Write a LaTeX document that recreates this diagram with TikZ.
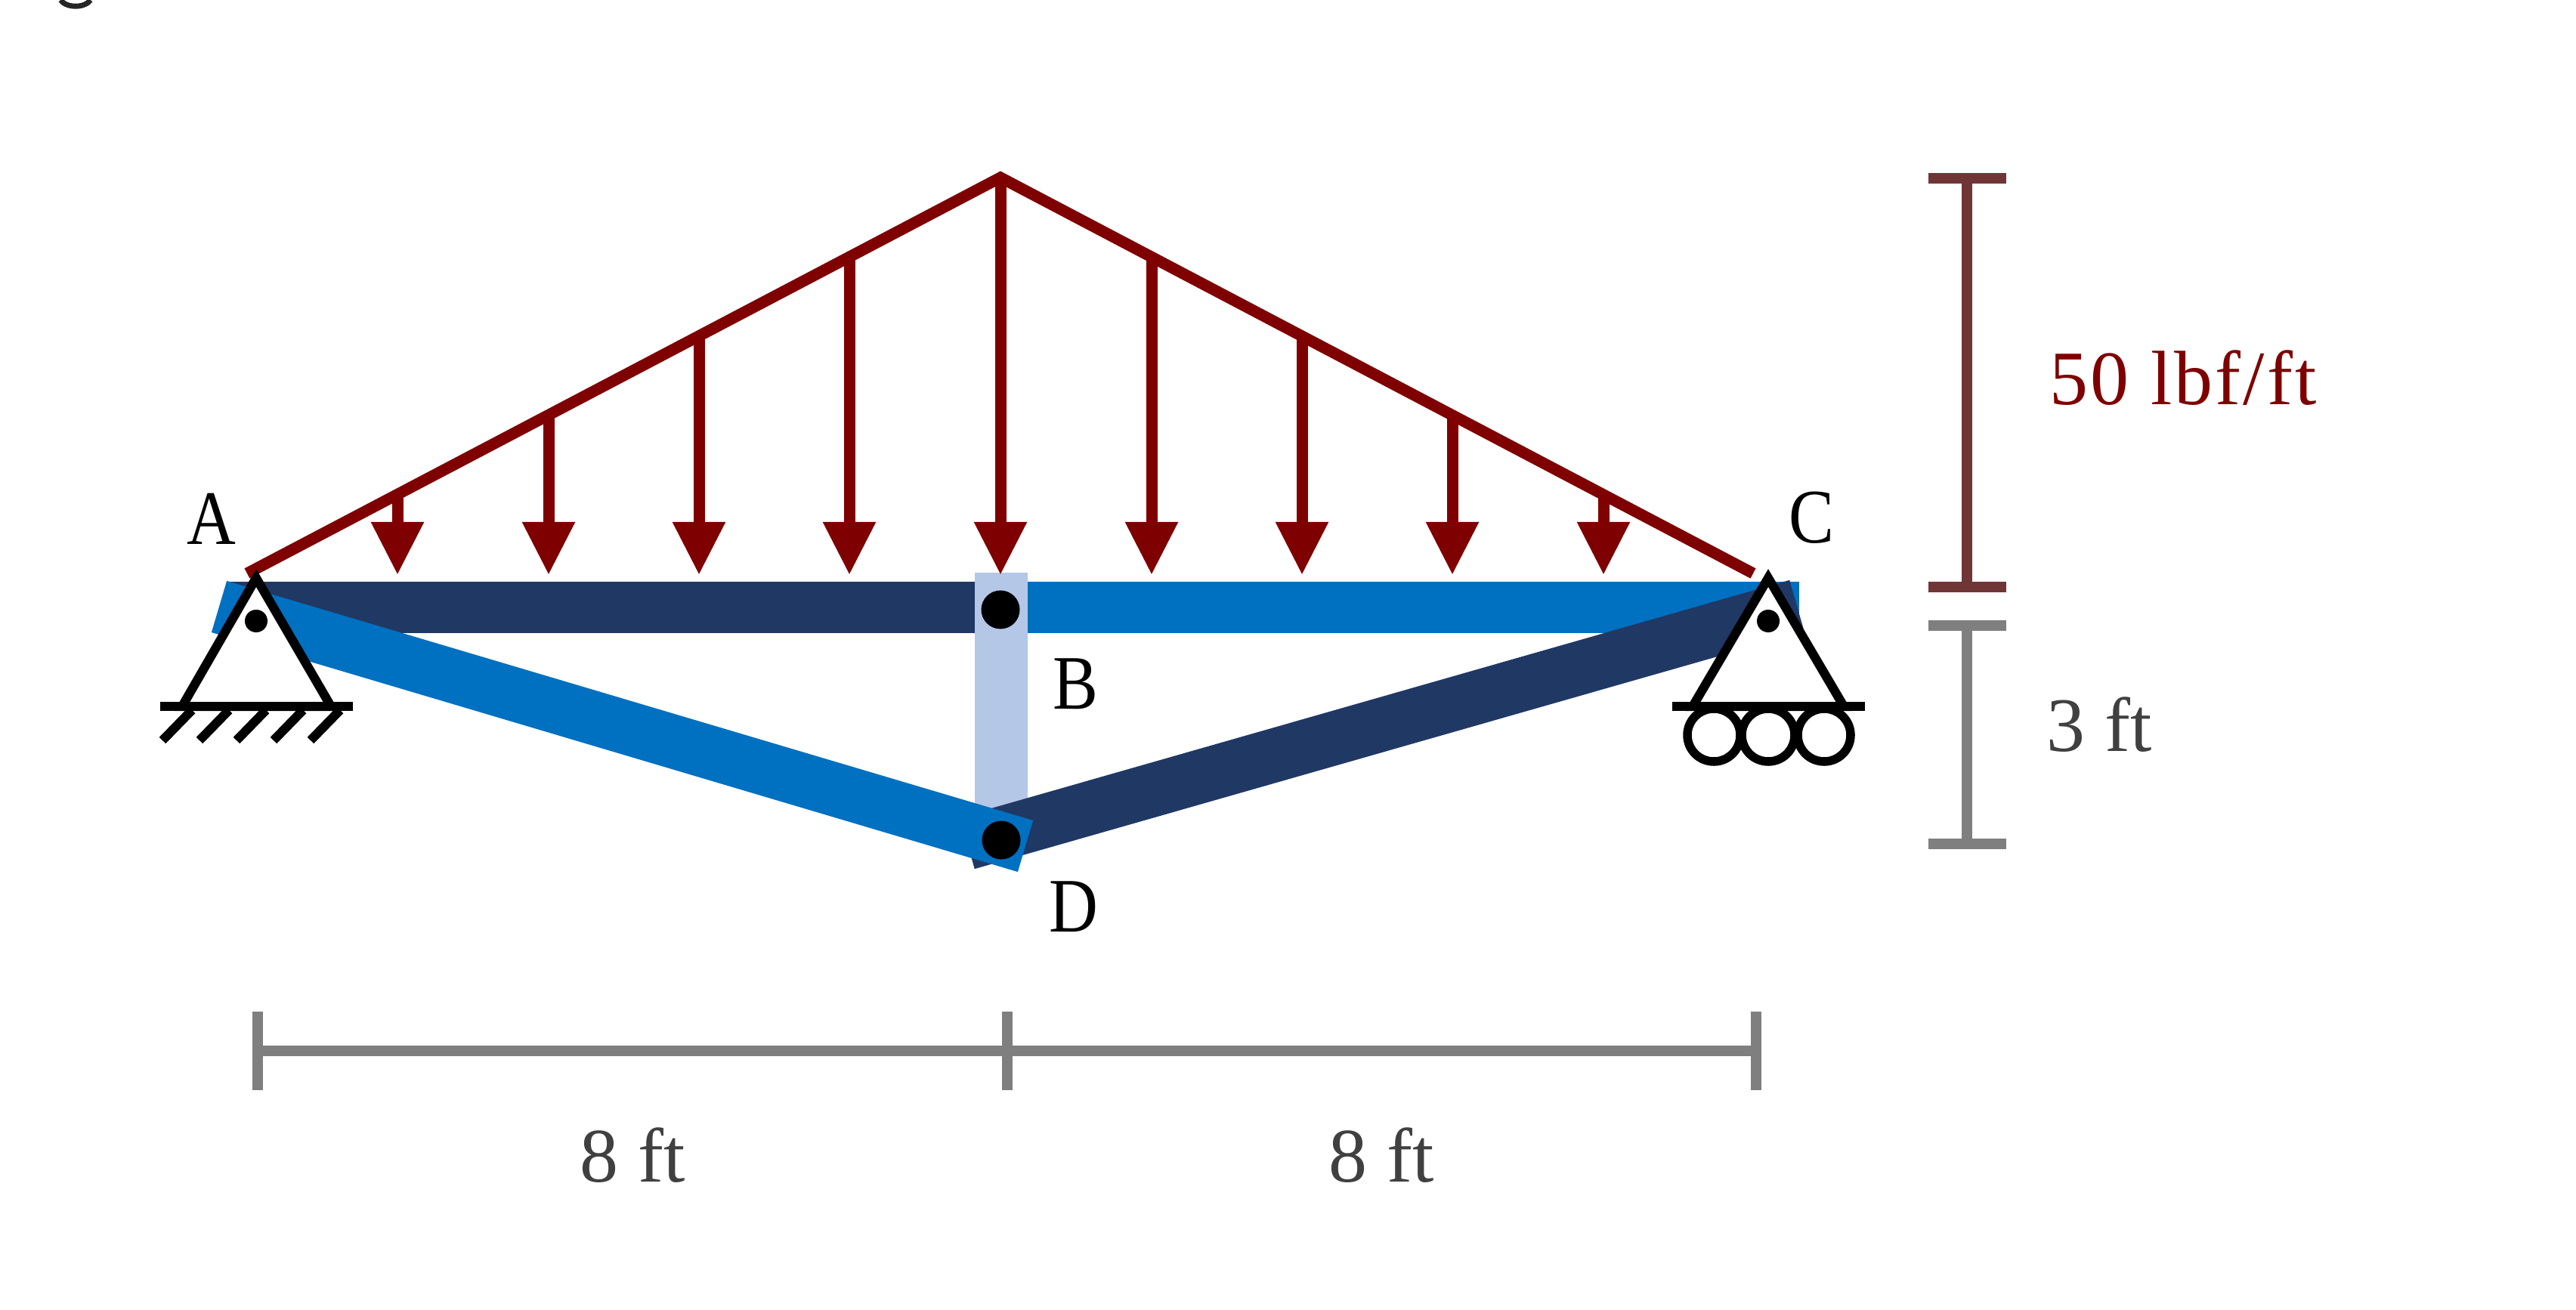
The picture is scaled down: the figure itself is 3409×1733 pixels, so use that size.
\documentclass[tikz,border=0pt]{standalone}
\usepackage{fontspec}
\setmainfont{Liberation Serif}
\usetikzlibrary{arrows.meta}
\definecolor{navybar}{HTML}{203864}
\definecolor{bluebar}{HTML}{0070C0}
\definecolor{lightbar}{HTML}{B4C7E7}
\definecolor{loadred}{HTML}{7F0000}
\definecolor{brownbar}{HTML}{703535}
\definecolor{greybar}{HTML}{7F7F7F}
\definecolor{greytext}{HTML}{404040}
\newcommand{\capletter}[1]{\scalebox{0.88}[1]{#1}}
\begin{document}
\begin{tikzpicture}[x=0.01cm, y=-0.01cm, line join=miter]
        \tikzstyle{member} = [line width=0.68cm]
        \tikzstyle{diagonal} = [line width=0.71cm]
        \tikzstyle{load} = [color=loadred, line width=0.15cm]
        \tikzstyle{loadarrow} = [load, -{Triangle[width=0.66cm, length=0.7cm]}]
        \tikzstyle{support} = [draw=black, fill=white, line width=0.12cm]
        \tikzstyle{pin} = [circle, fill=black, inner sep=0pt]
        \tikzstyle{dimline} = [line width=0.145cm, {Bar[width=1.03cm, line width=0.14cm]}-{Bar[width=1.03cm, line width=0.14cm]}]
        \tikzstyle{letter} = [font=\fontsize{29}{29}\selectfont, inner sep=0pt]
        \tikzstyle{size} = [letter, text=greytext]
        \useasboundingbox (0,0) rectangle (3409,1733);
        % stray tail of a letter cropped at the top edge
        \draw[line width=0.07cm, black!85] (80,0) .. controls (88,11) and (112,11) .. (120,0);
        % joints
        \coordinate (A) at (339,822);
        \coordinate (B) at (1324,807);
        \coordinate (C) at (2340,822);
        \coordinate (D) at (1325,1112);
        % bar ends
        \coordinate (ABleft) at (300,804);
        \coordinate (ABright) at (1290,804);
        \coordinate (BCleft) at (1360,804);
        \coordinate (BCright) at (2381,804);
        \coordinate (BDtop) at (1325,758);
        \coordinate (ADleft) at (290,803);
        \coordinate (ADright) at (1357,1120);
        \coordinate (DCleft) at (1280,1116);
        \coordinate (DCright) at (2378,802);
        \draw[member, navybar] (ABleft) -- (ABright);
        \draw[member, bluebar] (BCleft) -- (BCright);
        \draw[line width=0.7cm, lightbar] (BDtop) -- (D);
        \draw[diagonal, navybar] (DCleft) -- (DCright);
        \draw[diagonal, bluebar] (ADleft) -- (ADright);
        % distributed load
        \coordinate (loadleft) at (327,759);
        \coordinate (loadtop) at (1324,235);
        \coordinate (loadright) at (2320,759);
        \draw[load] (loadleft) -- (loadtop) -- (loadright);
        \foreach \i/\x/\ytop in {1/526/655, 2/726/550, 3/925/445, 4/1124/340, 5/1324/235, 6/1524/340, 7/1723/445, 8/1922/550, 9/2122/655} {
            \coordinate (top\i) at (\x,\ytop);
            \coordinate (tip\i) at (\x,761);
            \draw[loadarrow] (top\i) -- (tip\i);
        }
        % supports
        \draw[support] (339,765) -- (241,935) -- (438,935) -- cycle;
        \draw[support] (2340,765) -- (2240,935) -- (2440,935) -- cycle;
        \foreach \x in {215,264,313,362,411} {
            \draw[line width=0.12cm] (\x,980) -- ++(39,-40);
        }
        \draw[support] (212,935) -- (467,935);
        \foreach \x in {2268,2340,2414} {
            \draw[support, fill=none, line width=0.115cm] (\x,973) circle (35);
        }
        \draw[support] (2213,935) -- (2468,935);
        \node[pin, minimum size=0.3cm] (pinA) at (A) {};
        \node[pin, minimum size=0.3cm] (pinC) at (C) {};
        \node[pin, minimum size=0.51cm] (pinB) at (B) {};
        \node[pin, minimum size=0.51cm] (pinD) at (D) {};
        % dimensions
        \coordinate (loadhigh) at (2603,229);
        \coordinate (loadlow) at (2603,784);
        \coordinate (depthhigh) at (2603,821);
        \coordinate (depthlow) at (2603,1124);
        \draw[dimline, brownbar] (loadhigh) -- (loadlow);
        \draw[dimline, greybar] (depthhigh) -- (depthlow);
        \coordinate (spanA) at (334,1391);
        \coordinate (spanBl) at (1340,1391);
        \coordinate (spanBr) at (1326,1391);
        \coordinate (spanC) at (2331,1391);
        \draw[dimline, greybar] (spanA) -- (spanBl);
        \draw[dimline, greybar] (spanBr) -- (spanC);
        % labels
        \node[letter] (labelA) at (280,687) {\capletter{A}};
        \node[letter] (labelB) at (1423,905) {\capletter{B}};
        \node[letter] (labelC) at (2397,685) {\capletter{C}};
        \node[letter] (labelD) at (1421,1200) {\capletter{D}};
        \node[letter, text=loadred] (labelload) at (2889,500) {\addfontfeature{LetterSpace=3}50 lbf/ft};
        \node[size] (labeldepth) at (2778,959) {3 ft};
        \node[size] (labelleft) at (837,1529) {8 ft};
        \node[size] (labelright) at (1828,1529) {8 ft};
    \end{tikzpicture}
\end{document}
